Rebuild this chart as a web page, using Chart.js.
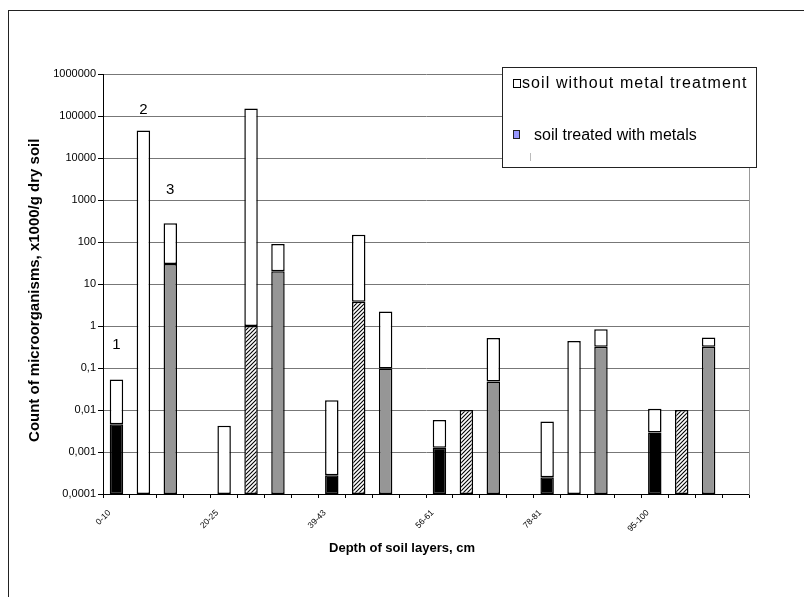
<!DOCTYPE html>
<html>
<head>
<meta charset="utf-8">
<script src="https://cdn.jsdelivr.net/npm/chart.js@4"></script>
<style>
html,body{margin:0;padding:0;background:#fff;overflow:hidden;}
#wrap{position:relative;width:804px;height:597px;overflow:hidden;}
canvas{position:absolute;left:0;top:0;}
#frame{position:absolute;left:8px;top:10px;width:900px;height:700px;border-left:1px solid #222;border-top:1px solid #222;pointer-events:none;}
</style>
</head>
<body>
<div id="wrap"><canvas id="c" width="804" height="597"></canvas><div id="frame"></div></div>
<script>
// ---------- data ----------
const categories = ['0-10','','','','20-25','','','','39-43','','','','56-61','','','','78-81','','','','95-100','','',''];
// top of each bar (soil without metal treatment, white part)
const untreatedTop = [0.053, 45000, 280, null, 0.0042, 150000, 90, null, 0.017, 148, 2.2, null, 0.0058, null, 0.52, null, 0.0053, 0.44, 0.84, null, 0.0107, null, 0.53, null];
// lower parts of the bars (soil treated with metals)
const blackPart   = [0.0046, null, null, null, null, null, null, null, 0.00028, null, null, null, 0.00126, null, null, null, 0.00025, null, null, null, 0.0029, null, null, null];
const hatchedPart = [null, null, null, null, null, 1, null, null, null, 3.8, null, null, null, 0.01, null, null, null, null, null, null, null, 0.01, null, null];
const greyPart    = [null, null, 30, null, null, null, 20, null, null, null, 0.097, null, null, null, 0.048, null, null, null, 0.32, null, null, null, 0.32, null];
const yTickValues = [0.0001, 0.001, 0.01, 0.1, 1, 10, 100, 1000, 10000, 100000, 1000000];
const yTickLabels = ['0,0001', '0,001', '0,01', '0,1', '1', '10', '100', '1000', '10000', '100000', '1000000'];
const annotationTexts  = ['1', '2', '3'];
const annotationIndex  = [0, 1, 2];
const annotationValues = [0.35, 137000, 1720];
const legendLabels = ['soil without metal treatment', 'soil treated with metals'];
const yTitle = 'Count of microorganisms, x1000/g dry soil';
const xTitle = 'Depth of soil layers, cm';

// ---------- helpers ----------
const Y_MIN = yTickValues[0], Y_MAX = yTickValues[yTickValues.length - 1];
const FONT = "'Liberation Sans', Arial, sans-serif";
Chart.defaults.font.family = FONT;
Chart.defaults.color = '#000';

function hatchPattern() {
  const c = document.createElement('canvas');
  c.width = 4; c.height = 4;
  const g = c.getContext('2d');
  g.fillStyle = '#fff'; g.fillRect(0, 0, 4, 4);
  g.strokeStyle = '#000'; g.lineWidth = 1.1;
  g.beginPath(); g.moveTo(-1, 5); g.lineTo(5, -1); g.stroke();
  g.beginPath(); g.moveTo(-1, 1); g.lineTo(1, -1); g.stroke();
  g.beginPath(); g.moveTo(3, 5); g.lineTo(5, 3); g.stroke();
  return g.createPattern(c, 'repeat');
}
const lowerOf = i => blackPart[i] ?? hatchedPart[i] ?? greyPart[i] ?? Y_MIN;
const whiteData = untreatedTop.map((v, i) => v == null ? null : [lowerOf(i), v]);
const segData = arr => arr.map(v => v == null ? null : [Y_MIN, v]);

const barCommon = {
  grouped: false,
  borderColor: '#000',
  borderWidth: 1.5,
  borderSkipped: false,
  barPercentage: 0.5,
  categoryPercentage: 1
};

const annotationPlugin = {
  id: 'numLabels',
  afterDatasetsDraw(chart) {
    const {ctx, scales: {x, y}} = chart;
    ctx.save();
    ctx.font = '15px ' + FONT;
    ctx.fillStyle = '#000';
    ctx.textAlign = 'center';
    ctx.textBaseline = 'middle';
    annotationTexts.forEach((t, k) => {
      ctx.fillText(t, x.getPixelForValue(annotationIndex[k]), y.getPixelForValue(annotationValues[k]));
    });
    ctx.restore();
  }
};

const legendPlugin = {
  id: 'boxLegend',
  afterDraw(chart) {
    const ctx = chart.ctx;
    ctx.save();
    ctx.fillStyle = '#fff';
    ctx.fillRect(502, 67, 255, 100);
    ctx.strokeStyle = '#222';
    ctx.lineWidth = 1;
    ctx.strokeRect(502.5, 67.5, 254, 100);
    // entry 1
    ctx.fillStyle = '#fff';
    ctx.fillRect(513.5, 79.5, 7, 8);
    ctx.strokeStyle = '#000';
    ctx.strokeRect(513.5, 79.5, 7, 8);
    ctx.fillStyle = '#000';
    ctx.font = '16px ' + FONT;
    ctx.textBaseline = 'alphabetic';
    ctx.textAlign = 'left';
    try { ctx.letterSpacing = '1.1px'; } catch (e) {}
    ctx.fillText(legendLabels[0], 522, 88);
    try { ctx.letterSpacing = '0px'; } catch (e) {}
    // entry 2
    ctx.fillStyle = '#9999FF';
    ctx.fillRect(513.5, 130.5, 6, 8);
    ctx.strokeStyle = '#222';
    ctx.strokeRect(513.5, 130.5, 6, 8);
    ctx.fillStyle = '#000';
    ctx.fillText(legendLabels[1], 534, 140);
    // empty third entry marker
    ctx.strokeStyle = '#bbb';
    ctx.beginPath(); ctx.moveTo(530.5, 153); ctx.lineTo(530.5, 161); ctx.stroke();
    ctx.restore();
  }
};

new Chart(document.getElementById('c'), {
  type: 'bar',
  data: {
    labels: categories,
    datasets: [
      Object.assign({label: legendLabels[0], data: whiteData, backgroundColor: '#fff'}, barCommon),
      Object.assign({label: 'black', data: segData(blackPart), backgroundColor: '#000'}, barCommon),
      Object.assign({label: 'hatched', data: segData(hatchedPart), backgroundColor: hatchPattern()}, barCommon),
      Object.assign({label: legendLabels[1], data: segData(greyPart), backgroundColor: '#969696'}, barCommon)
    ]
  },
  options: {
    responsive: false,
    animation: false,
    events: [],
    layout: {padding: {left: 8, top: 74, right: 8, bottom: 0}},
    plugins: {
      legend: {display: false},
      tooltip: {enabled: false},
      title: {
        display: true,
        position: 'bottom',
        text: xTitle,
        color: '#000',
        font: {size: 13, weight: 'bold', lineHeight: 1.2},
        padding: {top: 0, bottom: 41}
      }
    },
    scales: {
      x: {
        type: 'category',
        offset: true,
        grid: {display: true, offset: true, drawOnChartArea: false, drawTicks: true, tickLength: 4, color: '#000'},
        border: {display: true, color: '#000', width: 1},
        ticks: {autoSkip: false, minRotation: 45, maxRotation: 45, padding: 10, labelOffset: -7, font: {size: 8.5}, color: '#000'},
        afterFit(s) { s.height = 46.4; }
      },
      y: {
        type: 'logarithmic',
        position: 'left',
        min: Y_MIN,
        max: Y_MAX,
        afterBuildTicks(s) { s.ticks = yTickValues.map(v => ({value: v})); },
        grid: {color: '#777', lineWidth: 1, tickColor: '#000', tickLength: 5},
        border: {display: true, color: '#000', width: 1},
        ticks: {
          autoSkip: false,
          padding: 2,
          font: {size: 11},
          color: '#000',
          callback(v) {
            const k = yTickValues.findIndex(t => Math.abs(Math.log10(t) - Math.log10(v)) < 1e-6);
            return k >= 0 ? yTickLabels[k] : '';
          }
        },
        title: {
          display: true,
          text: yTitle + '   ',
          color: '#000',
          font: {size: 15, weight: 'bold', lineHeight: 1.2},
          padding: {top: 18, bottom: 0}
        },
        afterFit(s) { s.width = 95; }
      },
      yRight: {
        type: 'linear',
        position: 'right',
        display: true,
        grid: {display: true, drawOnChartArea: false, drawTicks: false},
        border: {display: true, color: '#999', width: 1},
        ticks: {display: false},
        afterFit(s) { s.width = 47; }
      }
    }
  },
  plugins: [annotationPlugin, legendPlugin]
});
</script>
</body>
</html>
